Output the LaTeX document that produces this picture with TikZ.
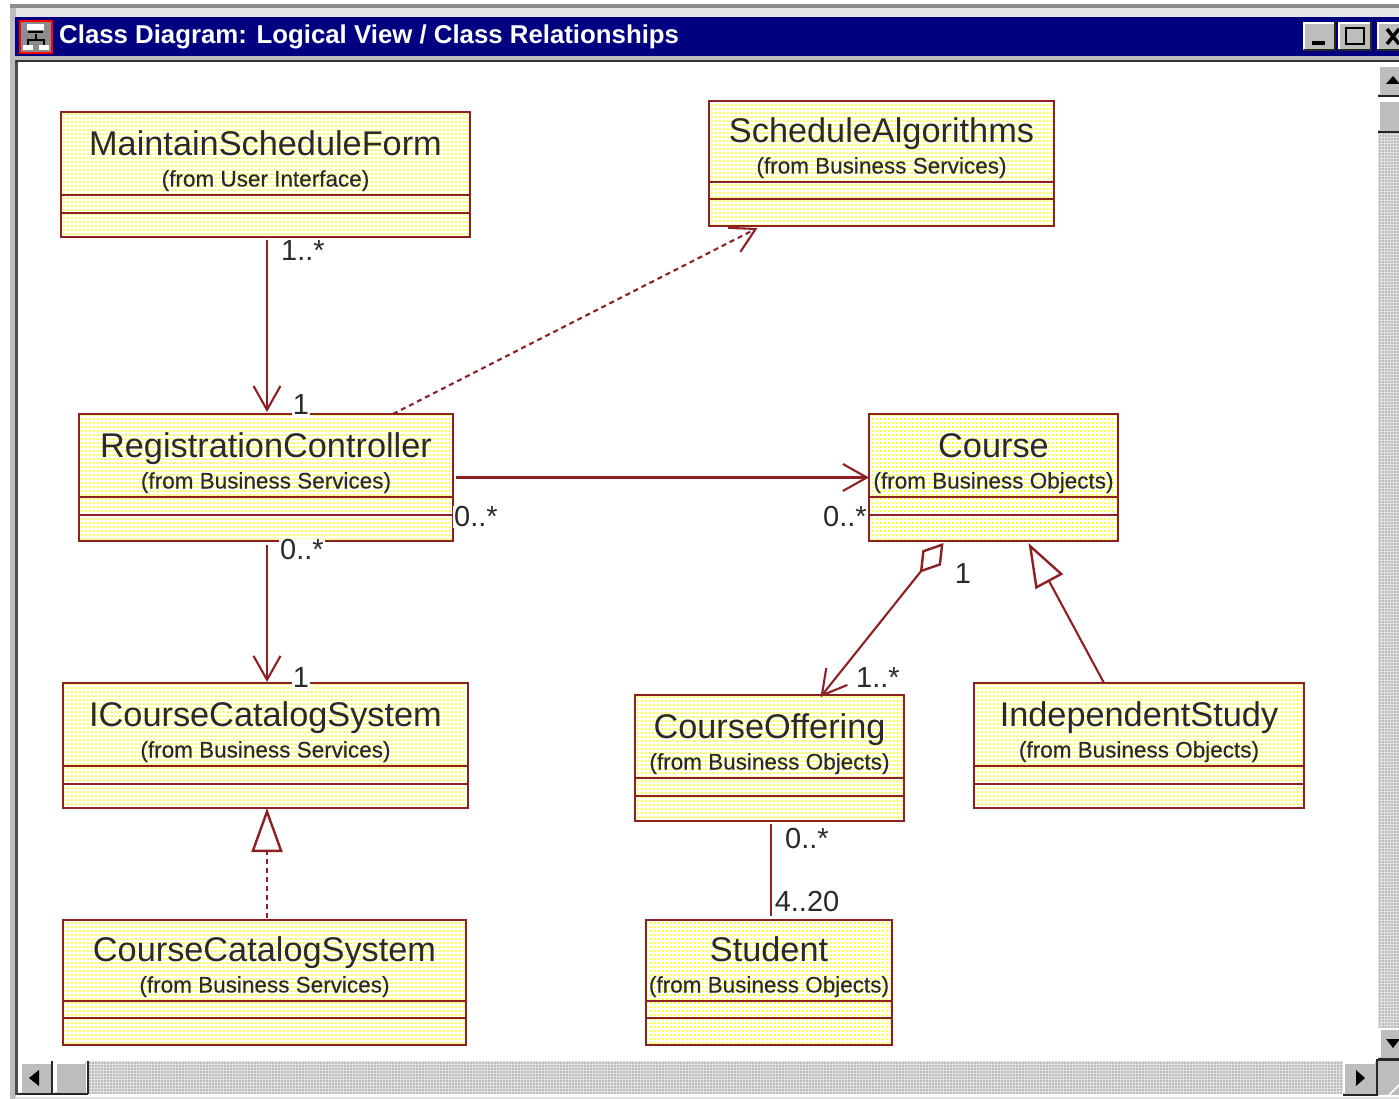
\documentclass[tikz,border=0pt]{standalone}
\usepackage{fontspec}
\setmainfont{Liberation Sans}
\newfontfamily\fromfont[BoldFont={Liberation Sans},BoldFeatures={FakeBold=0.35}]{Liberation Sans}
\usetikzlibrary{arrows.meta,patterns.meta}
\definecolor{umlred}{HTML}{8E1F22}
\definecolor{navy}{HTML}{000080}
\definecolor{chrome}{HTML}{BDBDBD}
\definecolor{txt}{HTML}{2A2A2A}
\tikzset{
  classbox/.style={draw=umlred,line width=2.4pt,fill=white,outer sep=0pt,inner sep=0pt},
  dotfill/.style={pattern={Dots[distance=4.35pt,radius=1.35pt]},pattern color=yellow},
  sepline/.style={draw=umlred,line width=2.4pt},
  cname/.style={text=txt,font=\fontsize{34.3}{38}\selectfont,inner sep=0pt,anchor=base},
  cfrom/.style={text=txt,font=\fromfont\bfseries\fontsize{22.5}{24}\selectfont,inner sep=0pt,anchor=base},
  mult/.style={text=txt,font=\fontsize{29}{32}\selectfont,fill=white,inner sep=1pt},
  conn/.style={draw=umlred,line width=2.1pt},
  dashconn/.style={conn,dash pattern=on 5pt off 4pt},
  openhead/.style={-{Straight Barb[length=24pt,width=27pt,line width=2.1pt]}},
  hollowtri/.style={-{Triangle[open,length=44pt,width=31pt,fill=white,line width=2.4pt]}},
  btn/.style={fill=chrome,draw=none},
  btnhi/.style={draw=white,line width=2pt},
  btnlo/.style={draw=black!85,line width=2.5pt},
  glyph/.style={fill=black,draw=none},
  checkerbase/.style={fill=black!12},
  checker/.style={pattern={Dots[distance=3pt,radius=0.9pt]},pattern color=gray!80},
}
% name x1 y1 x2 y2 sep1 sep2 title from
\newcommand{\classnode}[9]{%
  \pgfmathsetmacro{\cw}{#4-#2}\pgfmathsetmacro{\ch}{#5-#3}%
  \pgfmathsetmacro{\cx}{(#2+#4)/2}\pgfmathsetmacro{\cy}{(#3+#5)/2}%
  \node[classbox,minimum width=\cw pt,minimum height=\ch pt] (#1) at (\cx,\cy) {};
  \fill[dotfill] (#2,#3) rectangle (#4,#5);
  \draw[sepline] (#2,#6) -- (#4,#6);
  \draw[sepline] (#2,#7) -- (#4,#7);
  \draw[draw=umlred,line width=2.4pt] (#2,#3) rectangle (#4,#5);
  \pgfmathsetmacro{\tya}{#6-39.5}\pgfmathsetmacro{\tyb}{#6-8.5}%
  \node[cname] (#1name) at (\cx,\tya) {#8};
  \node[cfrom] (#1from) at (\cx,\tyb) {#9};
}
\begin{document}
\begin{tikzpicture}[x=1pt,y=-1pt]
\useasboundingbox (0,0) rectangle (1399,1099);
% window chrome
\fill[white] (0,0) rectangle (1399,1099);
\fill[black!45] (10,4) rectangle (1399,8);
\fill[black!10] (10,8) rectangle (1399,17);
\fill[chrome] (10,8) rectangle (16,1099);
\fill[black!70] (15,60) rectangle (18,1095);
\fill[navy] (15,17) rectangle (1399,56);
\fill[chrome] (15,56) rectangle (1399,60);
\fill[black!80] (16,60) rectangle (1399,62);
% title icon
\fill[black!45] (19,20) rectangle (53,54);
\draw[red,line width=2pt] (20,21) rectangle (52,53);
\fill[white] (27,24) rectangle (44,30);
\fill[black] (28,31) rectangle (43,33);
\fill[white] (23,45) rectangle (33,50);
\fill[white] (39,45) rectangle (49,50);
\draw[black,line width=1.5pt] (28,45) -- (28,40) -- (44,40) -- (44,45) (36,34) -- (36,40);
\node[text=white,font=\bfseries\fontsize{25.8}{28}\selectfont,inner sep=0pt,anchor=west] (wintitle) at (59,37) {Class Diagram: Logical View / Class Relationships};
% title buttons
\fill[btn] (1303,22) rectangle (1335,50);
\draw[btnhi] (1304,49) -- (1304,23) -- (1334,23);
\draw[btnlo] (1304,50) -- (1335,50) -- (1335,22);
\fill[glyph] (1312,41) rectangle (1325,45);
\fill[btn] (1338,22) rectangle (1371,50);
\draw[btnhi] (1339,49) -- (1339,23) -- (1370,23);
\draw[btnlo] (1338,50) -- (1371,50) -- (1371,22);
\draw[black,line width=2.5pt] (1346,28) rectangle (1364,44);
\fill[btn] (1377,22) rectangle (1399,50);
\draw[btnhi] (1378,49) -- (1378,23) -- (1399,23);
\draw[btnlo] (1377,50) -- (1399,50);
\draw[black,line width=3.5pt] (1387,29) -- (1399,44) (1387,44) -- (1399,29);
% vertical scrollbar
\fill[checkerbase] (1378,132) rectangle (1399,1028);
\fill[checker] (1378,132) rectangle (1399,1028);
\fill[btn] (1378,65) rectangle (1399,95);
\draw[btnhi] (1379,94) -- (1379,66) -- (1399,66);
\draw[btnlo] (1378,96) -- (1399,96);
\fill[glyph] (1386,84) -- (1400,84) -- (1393,76) -- cycle;
\fill[btn] (1378,100) rectangle (1399,131);
\draw[btnhi] (1379,130) -- (1379,101) -- (1399,101);
\draw[btnlo] (1378,132) -- (1399,132);
\fill[btn] (1380,1028) rectangle (1399,1058);
\draw[btnhi] (1380,1057) -- (1380,1029) -- (1399,1029);
\draw[btnlo] (1378,1059) -- (1399,1059);
\fill[glyph] (1386,1039) -- (1400,1039) -- (1393,1048) -- cycle;
% horizontal scrollbar
\fill[checkerbase] (88,1061) rectangle (1343,1094);
\fill[checker] (88,1061) rectangle (1343,1094);
\fill[btn] (20,1062) rectangle (52,1094);
\draw[btnhi] (21,1093) -- (21,1063) -- (51,1063);
\draw[btnlo] (17,1094) -- (88,1094) (52,1061) -- (52,1094) (88,1061) -- (88,1094);
\fill[glyph] (29,1078) -- (39,1070) -- (39,1086) -- cycle;
\fill[btn] (55,1062) rectangle (86,1093);
\draw[btnhi] (56,1092) -- (56,1063) -- (85,1063);
\fill[btn] (1343,1062) rectangle (1376,1094);
\draw[btnhi] (1344,1093) -- (1344,1063) -- (1375,1063);
\fill[btn] (1378,1061) rectangle (1399,1095);
\draw[btnlo] (1343,1095) -- (1377,1095) -- (1377,1060) -- (1399,1060);
\fill[glyph] (1356,1070) -- (1365,1078) -- (1356,1086) -- cycle;
\draw[white,line width=1.5pt] (1389,1095) -- (1399,1085);
\fill[black!12] (15,1096.5) rectangle (1399,1099);
% classes
\classnode{msf}{61}{112}{470}{237}{195}{213}{MaintainScheduleForm}{(from User Interface)}
\classnode{sa}{709}{101}{1054}{226}{182}{199}{ScheduleAlgorithms}{(from Business Services)}
\classnode{rc}{79}{414}{453}{541}{497}{515}{RegistrationController}{(from Business Services)}
\classnode{course}{869}{414}{1118}{541}{497}{515}{Course}{(from Business Objects)}
\classnode{iccs}{63}{683}{468}{808}{766}{784}{ICourseCatalogSystem}{(from Business Services)}
\classnode{co}{635}{695}{904}{821}{778}{796}{CourseOffering}{(from Business Objects)}
\classnode{is}{974}{683}{1304}{808}{766}{784}{IndependentStudy}{(from Business Objects)}
\classnode{ccs}{63}{920}{466}{1045}{1001}{1018}{CourseCatalogSystem}{(from Business Services)}
\classnode{st}{646}{920}{892}{1045}{1001}{1018}{Student}{(from Business Objects)}
% connectors
\draw[conn,openhead] ([xshift=1.5pt,yshift=-3pt]msf.south) -- ([xshift=1pt,yshift=2pt]rc.north);
\draw[dashconn,openhead] ([xshift=127pt]rc.north) -- ([xshift=-124pt,yshift=-2pt]sa.south);
\draw[conn,openhead] ([xshift=3pt]rc.east) -- (course.west);
\draw[conn,openhead] ([xshift=1pt,yshift=-4pt]rc.south) -- ([xshift=1.5pt,yshift=1pt]iccs.north);
\draw[dashconn,hollowtri] ([xshift=2.5pt,yshift=2pt]ccs.north) -- ([xshift=1.5pt]iccs.south);
\draw[conn,{Diamond[open,length=38pt,width=24pt,fill=white,line width=2.4pt]}-{Straight Barb[length=24pt,width=27pt,line width=2.1pt]}] ([xshift=-50pt,yshift=-2pt]course.south) -- ([xshift=51pt,yshift=-2pt]co.north);
\draw[conn,hollowtri] ([xshift=-35pt]is.north) -- ([xshift=35pt,yshift=-2pt]course.south);
\draw[conn] ([xshift=1.5pt,yshift=-3pt]co.south) -- ([xshift=2pt,yshift=4pt]st.north);
% multiplicities
\node[mult] (m1) at (303,251) {1..*};
\node[mult] (m2) at (301,405) {1};
\node[mult] (m3) at (476,517) {0..*};
\node[mult] (m4) at (845,517) {0..*};
\node[mult] (m5) at (302,550) {0..*};
\node[mult] (m6) at (301,678) {1};
\node[mult] (m7) at (963,574) {1};
\node[mult] (m8) at (878,678) {1..*};
\node[mult] (m9) at (807,839) {0..*};
\node[mult] (m10) at (807,902) {4..20};
\end{tikzpicture}
\end{document}
